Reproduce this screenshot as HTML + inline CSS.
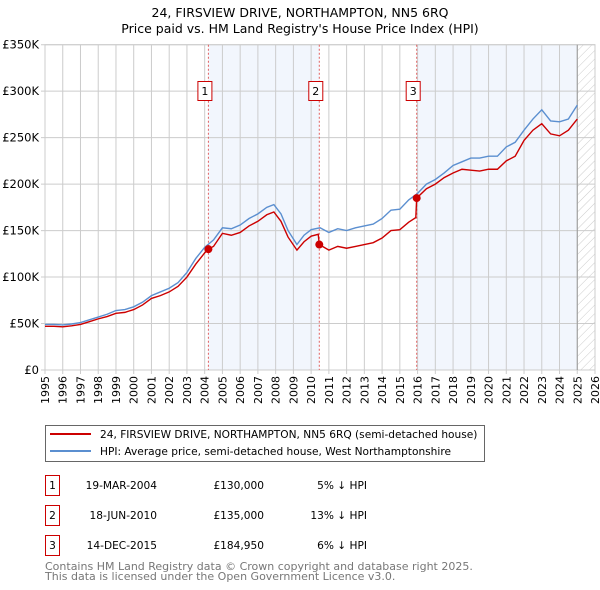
<!DOCTYPE html>
<html><head><meta charset="utf-8"><style>
body{margin:0;background:#fff;}
svg{display:block;font-family:"DejaVu Sans","Liberation Sans",sans-serif;}
</style></head><body>
<svg id="chart" width="600" height="590" viewBox="0 0 600 590" xmlns="http://www.w3.org/2000/svg">
<defs><pattern id="hatch" width="6" height="6" patternUnits="userSpaceOnUse" patternTransform="rotate(45)"><line x1="0" y1="0" x2="0" y2="6" stroke="#ccc" stroke-width="1"/></pattern></defs>
<text x="300" y="17" text-anchor="middle" font-size="12.5" fill="#000">24, FIRSVIEW DRIVE, NORTHAMPTON, NN5 6RQ</text>
<text x="300" y="33" text-anchor="middle" font-size="12.5" fill="#000">Price paid vs. HM Land Registry's House Price Index (HPI)</text>
<g id="plot"></g>
<g>
<rect x="45.5" y="425.5" width="439" height="36" fill="#fff" stroke="#666"/>
<line x1="50" y1="434" x2="91" y2="434" stroke="#cc0000" stroke-width="2"/>
<text x="100" y="438" font-size="10.6" fill="#000">24, FIRSVIEW DRIVE, NORTHAMPTON, NN5 6RQ (semi-detached house)</text>
<line x1="50" y1="451" x2="91" y2="451" stroke="#5b8fd0" stroke-width="2"/>
<text x="100" y="455" font-size="10.6" fill="#000">HPI: Average price, semi-detached house, West Northamptonshire</text>
</g>
<g font-size="10.6" fill="#000">
<rect x="45.5" y="475.5" width="14" height="20" fill="#fff" stroke="#cc0000"/><text x="52.5" y="489" text-anchor="middle">1</text>
<text x="157" y="489" text-anchor="end">19-MAR-2004</text><text x="264" y="489" text-anchor="end">£130,000</text><text x="367" y="489" text-anchor="end">5% ↓ HPI</text>
<rect x="45.5" y="505.5" width="14" height="20" fill="#fff" stroke="#cc0000"/><text x="52.5" y="519" text-anchor="middle">2</text>
<text x="157" y="519" text-anchor="end">18-JUN-2010</text><text x="264" y="519" text-anchor="end">£135,000</text><text x="367" y="519" text-anchor="end">13% ↓ HPI</text>
<rect x="45.5" y="535.5" width="14" height="20" fill="#fff" stroke="#cc0000"/><text x="52.5" y="549" text-anchor="middle">3</text>
<text x="157" y="549" text-anchor="end">14-DEC-2015</text><text x="264" y="549" text-anchor="end">£184,950</text><text x="367" y="549" text-anchor="end">6% ↓ HPI</text>
</g>
<text x="45" y="570" font-size="11" fill="#777">Contains HM Land Registry data © Crown copyright and database right 2025.</text>
<text x="45" y="580" font-size="11" fill="#777">This data is licensed under the Open Government Licence v3.0.</text>
</svg>
<script>
const hpiYears=[1995,1995.5,1996,1996.5,1997,1997.5,1998,1998.5,1999,1999.5,2000,2000.5,2001,2001.5,2002,2002.5,2003,2003.5,2004,2004.5,2005,2005.5,2006,2006.5,2007,2007.5,2007.9,2008.3,2008.7,2009.2,2009.6,2010,2010.5,2011,2011.5,2012,2012.5,2013,2013.5,2014,2014.5,2015,2015.5,2016,2016.5,2017,2017.5,2018,2018.5,2019,2019.5,2020,2020.5,2021,2021.5,2022,2022.5,2023,2023.5,2024,2024.5,2025];
const hpiValues=[49,49,48.5,49.5,51,54,57,60,64,65,68,73,80,84,88,94,105,120,132,140,153,152,156,163,168,175,178,168,150,135,145,151,153,148,152,150,153,155,157,163,172,173,183,190,200,205,212,220,224,228,228,230,230,240,245,258,270,280,268,267,270,285];
const priceYears=[1995,1995.5,1996,1996.5,1997,1997.5,1998,1998.5,1999,1999.5,2000,2000.5,2001,2001.5,2002,2002.5,2003,2003.5,2004,2004.21,2004.5,2005,2005.5,2006,2006.5,2007,2007.5,2007.9,2008.3,2008.7,2009.2,2009.6,2010,2010.4,2010.46,2011,2011.5,2012,2012.5,2013,2013.5,2014,2014.5,2015,2015.5,2015.9,2015.95,2016.5,2017,2017.5,2018,2018.5,2019,2019.5,2020,2020.5,2021,2021.5,2022,2022.5,2023,2023.5,2024,2024.5,2025];
const priceValues=[47,47,46.5,47.5,49,52,55,57.5,61,62,65,70,77,80,84,90,100,114,126,130,133,147,145,148,155,160,167,170,160,143,129,138,144,146,135,129,133,131,133,135,137,142,150,151,159,164,185,195,200,207,212,216,215,214,216,216,225,230,247,258,265,254,252,258,270];
const saleYears=[2004.21,2010.46,2015.95];
const saleValues=[130,135,184.95];
const saleLabels=["1","2","3"];
const yTicks=[0,50,100,150,200,250,300,350];
const yTickLabels=["£0","£50K","£100K","£150K","£200K","£250K","£300K","£350K"];
const xTicks=[1995,1996,1997,1998,1999,2000,2001,2002,2003,2004,2005,2006,2007,2008,2009,2010,2011,2012,2013,2014,2015,2016,2017,2018,2019,2020,2021,2022,2023,2024,2025,2026];

const L=45,R=595,T=44.7,B=370,X0=1995,X1=2026,YMAX=350,DATA_END=2025.0;
const xs=y=>L+(y-X0)/(X1-X0)*(R-L);
const ys=v=>B-v/YMAX*(B-T);
const NS="http://www.w3.org/2000/svg";
const g=document.getElementById('plot');
function mk(t,a){const e=document.createElementNS(NS,t);for(const k in a)e.setAttribute(k,a[k]);g.appendChild(e);return e;}

for(let i=0;i<saleYears.length;i+=2){
  const x1=xs(saleYears[i]);const x2=i+1<saleYears.length?xs(saleYears[i+1]):xs(DATA_END);
  const r=mk('rect',{x:x1,y:T,width:x2-x1,height:B-T,fill:'#eef3fc',opacity:0.75});
  
  
}
const h=mk('rect',{x:xs(DATA_END),y:T,width:R-xs(DATA_END),height:B-T,fill:'url(#hatch)'});


xTicks.forEach(t=>{
  const l=mk('line',{x1:xs(t),x2:xs(t),y1:T,y2:B+4,stroke:'#ccc','stroke-width':1});
  
  
  const tx=mk('text',{x:0,y:0,'font-size':11,'text-anchor':'end',transform:`translate(${xs(t)+4},${B+6}) rotate(-90)`});
  tx.textContent=t;
  
  
});
yTicks.forEach((t,i)=>{
  const l=mk('line',{x1:L-4,x2:R,y1:ys(t),y2:ys(t),stroke:'#ccc','stroke-width':1});
  
  
  const tx=mk('text',{x:L-6,y:ys(t)+4,'font-size':11.5,'text-anchor':'end'});
  tx.textContent=yTickLabels[i];
  
  
});
const frame=mk('rect',{x:L,y:T,width:R-L,height:B-T,fill:'none',stroke:'#ccc'});


const endLine=mk('line',{x1:xs(DATA_END),x2:xs(DATA_END),y1:T,y2:B,stroke:'#999','stroke-width':1});


saleYears.forEach((s,i)=>{
  const l=mk('line',{x1:xs(s),x2:xs(s),y1:T,y2:B,stroke:'#e06060','stroke-width':1,'stroke-dasharray':'2,2'});
  
  
  const b=mk('rect',{x:xs(s)-10.5,y:81.5,width:14,height:19,fill:'#fff',stroke:'#cc0000'});
  
  
  const t=mk('text',{x:xs(s)-3.5,y:95,'font-size':11,'text-anchor':'middle'});
  t.textContent=saleLabels[i];
  
  
});
const hp=mk('polyline',{points:hpiYears.map((y,i)=>xs(y)+','+ys(hpiValues[i])).join(' '),fill:'none',stroke:'#5b8fd0','stroke-width':1.4});


const pp=mk('polyline',{points:priceYears.map((y,i)=>xs(y)+','+ys(priceValues[i])).join(' '),fill:'none',stroke:'#cc0000','stroke-width':1.4});


saleYears.forEach((s,i)=>{
  const c=mk('circle',{cx:xs(s),cy:ys(saleValues[i]),r:4,fill:'#cc0000'});
  
  
});
</script>
</body></html>
